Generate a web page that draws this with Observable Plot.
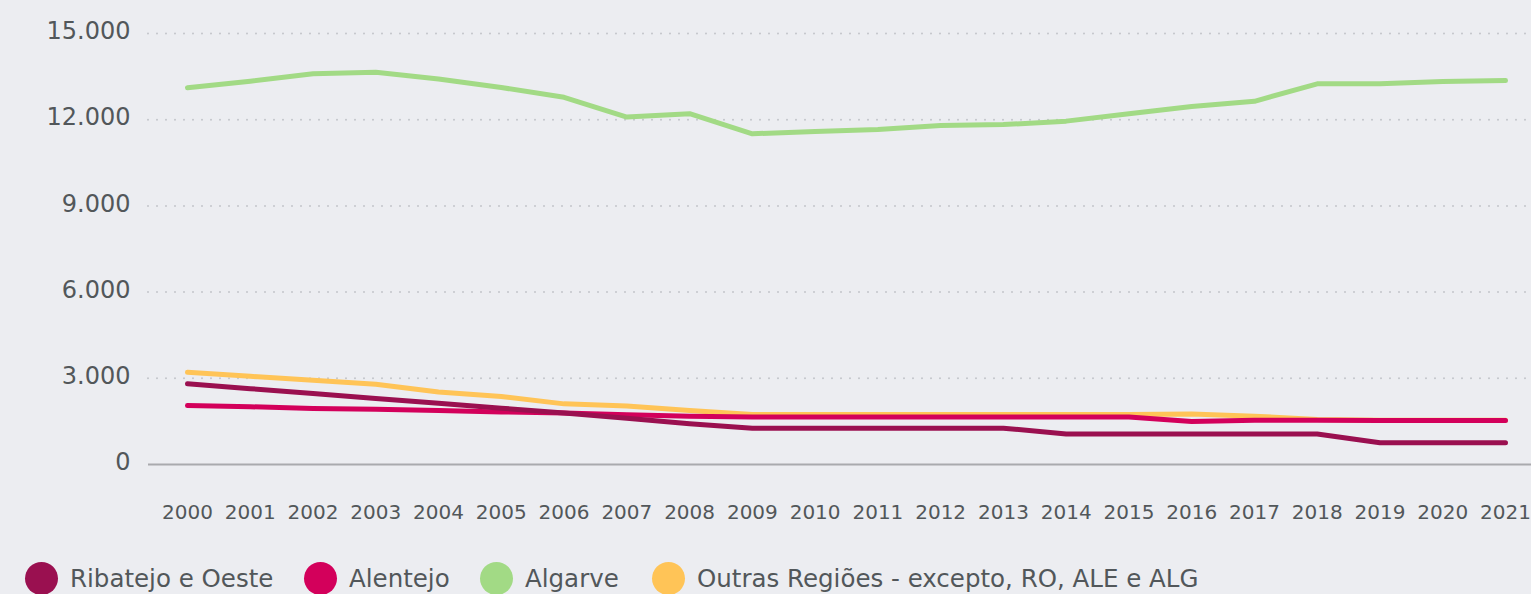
<!DOCTYPE html>
<html>
<head>
<meta charset="utf-8">
<script src="https://cdn.jsdelivr.net/npm/d3@7"></script>
<script src="https://cdn.jsdelivr.net/npm/@observablehq/plot@0.6"></script>
<style>
  html, body { margin: 0; padding: 0; background: #ECEDF1; overflow: hidden; }
  body { width: 1531px; height: 594px; font-family: "DejaVu Sans", sans-serif; color: #52575A; }
  #legend { position: relative; height: 54px; }
  .item { position: absolute; top: 22px; display: flex; align-items: center; white-space: nowrap; }
  .dot { width: 33px; height: 33px; border-radius: 50%; margin-right: 12px; }
  .lbl { font-size: 24.5px; }
</style>
</head>
<body>
<div id="chart"></div>
<div id="legend"></div>
<script>
const years = [2000,2001,2002,2003,2004,2005,2006,2007,2008,2009,2010,2011,2012,2013,2014,2015,2016,2017,2018,2019,2020,2021];
const seriesNames = ["Ribatejo e Oeste", "Alentejo", "Algarve", "Outras Regiões - excepto, RO, ALE e ALG"];
const seriesColors = ["#9A1050", "#D3005B", "#A2DA85", "#FFC457"];
const ribatejo = [2810,2640,2470,2300,2130,1960,1790,1610,1420,1265,1265,1265,1265,1265,1060,1060,1060,1060,1060,760,760,760];
const alentejo = [2050,2010,1950,1920,1880,1830,1790,1730,1680,1650,1650,1650,1650,1650,1650,1650,1500,1540,1540,1530,1530,1530];
const algarve  = [13110,13340,13600,13650,13420,13120,12780,12090,12210,11510,11590,11660,11800,11830,11950,12210,12460,12640,13250,13250,13330,13360];
const outras   = [3210,3070,2930,2790,2520,2370,2110,2040,1880,1740,1740,1740,1740,1740,1740,1740,1760,1680,1570,1540,1540,1540];
const yTicks = [0,3000,6000,9000,12000,15000];

const valuesBySeries = [ribatejo, alentejo, algarve, outras];
const drawOrder = [3, 2, 1, 0];
const data = [];
for (const s of drawOrder) {
  years.forEach((yr, i) => data.push({series: seriesNames[s], year: yr, value: valuesBySeries[s][i]}));
}
const fmt = d => d3.format(",")(d).replace(/,/g, ".");

const chart = Plot.plot({
  width: 1531,
  height: 540,
  marginTop: 33,
  marginBottom: 76,
  marginLeft: 148,
  marginRight: 0,
  style: {background: "transparent", fontFamily: "DejaVu Sans, sans-serif", color: "#52575A", overflow: "visible"},
  x: {domain: [2000, 2021], range: [187, 1505], label: null},
  y: {domain: [0, 15000], label: null},
  color: {domain: seriesNames, range: seriesColors},
  marks: [
    Plot.ruleY(yTicks.filter(d => d > 0), {stroke: "#C3C5CA", strokeWidth: 2, strokeDasharray: "0,9", strokeLinecap: "round"}),
    Plot.ruleY([0], {stroke: "#A9AAAE", strokeWidth: 2}),
    Plot.axisY({ticks: yTicks, tickSize: 0, tickPadding: 18, fontSize: 24, dy: -2, tickFormat: fmt, label: null}),
    Plot.axisX({ticks: years, tickSize: 0, tickPadding: 40, fontSize: 20, tickFormat: d => String(d), label: null}),
    Plot.line(data, {x: "year", y: "value", z: "series", stroke: "series", strokeWidth: 5, strokeLinecap: "round", strokeLinejoin: "round"})
  ]
});
document.getElementById("chart").appendChild(chart);

const legend = document.getElementById("legend");
const lefts = [25, 304, 480, 652];
seriesNames.forEach((name, i) => {
  const item = document.createElement("div");
  item.className = "item";
  item.style.left = lefts[i] + "px";
  const dot = document.createElement("div");
  dot.className = "dot";
  dot.style.background = seriesColors[i];
  const lbl = document.createElement("span");
  lbl.className = "lbl";
  lbl.textContent = name;
  item.appendChild(dot);
  item.appendChild(lbl);
  legend.appendChild(item);
});
</script>
</body>
</html>
